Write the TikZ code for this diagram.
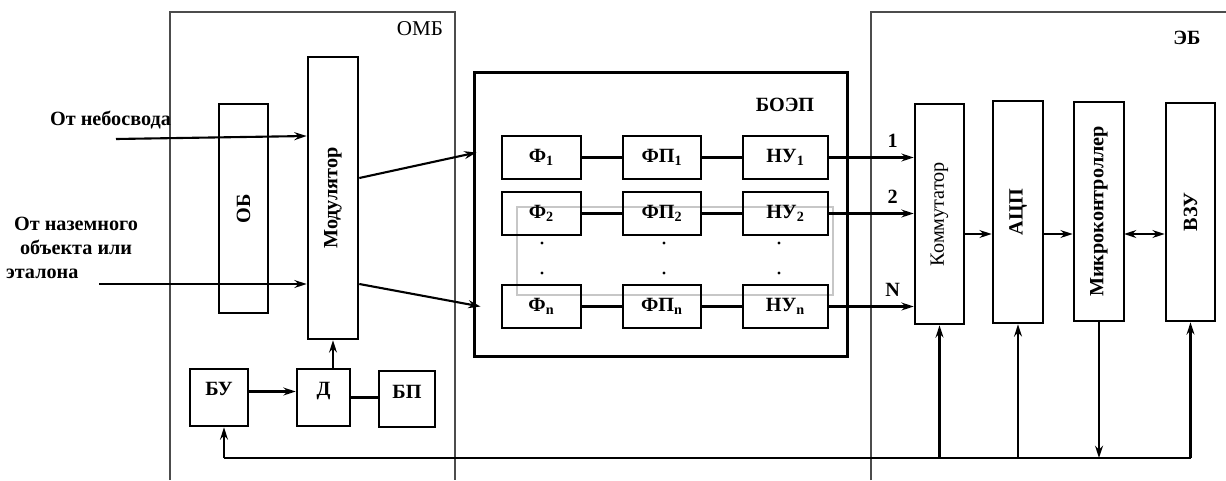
\documentclass[tikz,border=0pt]{standalone}
\usepackage{fontspec}
\setmainfont{Liberation Serif}
\usetikzlibrary{calc,arrows.meta}
\tikzset{
  blk/.style={draw, line width=1.5pt, inner sep=0pt, font=\fontsize{11.5}{13}\selectfont\bfseries},
  cell/.style={blk, minimum height=0.86cm},
  wire/.style={line width=1.2pt},
  arr/.style={wire, -{Stealth[length=7pt,width=4.5pt]}},
  twoway/.style={wire, {Stealth[length=7pt,width=4.5pt]}-{Stealth[length=7pt,width=4.5pt]}},
  frame/.style={draw=black!70, line width=0.6pt},
  txt/.style={font=\fontsize{11.5}{13.5}\selectfont\bfseries, inner sep=0pt}
}
\begin{document}
\begin{tikzpicture}[x=0.02cm, y=-0.02cm]
			%%%%% START %%%%%
			\useasboundingbox (0,0) rectangle (1226,480);
			
			% outer frames
			\draw[frame] (170,480) -- (170,12) -- (455,12) -- (455,480);
			\draw[frame] (871,480) -- (871,12) -- (1226,12);
			\node[font=\fontsize{12}{14}\selectfont, inner sep=0pt] (ombl) at (420,29) {ОМБ};
			\node[txt] (ebl) at (1187,38) {ЭБ};
			
			% optical-mechanical block
			\node[blk, minimum width=0.98cm, minimum height=4.18cm] (ob) at (243.5,208.5) {\rotatebox{90}{ОБ}};
			\node[blk, minimum width=1.0cm, minimum height=5.64cm] (mod) at (333,198) {\rotatebox{90}{Модулятор}};
			\node[blk, text depth=0.36cm, minimum width=1.16cm, minimum height=1.14cm] (bu) at (219,397.5) {БУ};
			\node[blk, text depth=0.36cm, minimum width=1.06cm, minimum height=1.14cm] (d) at (323.5,397.5) {Д};
			\node[blk, text depth=0.28cm, minimum width=1.12cm, minimum height=1.12cm] (bp) at (407,399) {БП};
			
			\coordinate (sky) at (116,139);
			\coordinate (ground) at (99,284);
			\node[txt] (skyl) at (110.5,120) {От небосвода};
			\node[txt, align=left] (groundl) at (72,248) {\hspace{0.16cm}От наземного\\\hspace{0.28cm}объекта или\\эталона};
			\draw[arr] (sky) -- ($(mod.west)+(0,-62)$);
			\draw[arr] (ground) -- ($(mod.west)+(0,86)$);
			
			\draw[arr] ([yshift=0.12cm]bu.east) -- ([yshift=0.12cm]d.west);
			\draw[wire] (d.east) -- (d.east -| bp.west);
			\draw[arr] (d.north -| mod.south) -- (mod.south);
			
			% photodetector block
			\node[draw, line width=1.7pt, minimum width=7.48cm, minimum height=5.70cm] (boep) at (661,214.5) {};
			\node[txt] (boepl) at (785,105) {БОЭП};
			\draw[draw=black!22, line width=0.6pt] (517,207) rectangle (833,295);
			
			\draw[arr] ($(mod.east)+(0,-20)$) -- ($(boep.west)+(4,-62)$);
			\draw[arr] ($(mod.east)+(0,86)$) -- ($(boep.west)+(8,92)$);
			
			% electronic block
			\node[blk, font=\fontsize{11.5}{13}\selectfont, minimum width=0.98cm, minimum height=4.40cm] (kom) at (939.5,214) {\rotatebox{90}{Коммутатор}};
			\node[blk, minimum width=1.0cm, minimum height=4.44cm] (adc) at (1018,212) {\rotatebox{90}{АЦП}};
			\node[blk, minimum width=1.0cm, minimum height=4.38cm] (mcu) at (1099,211.5) {\rotatebox{90}{Микроконтроллер}};
			\node[blk, minimum width=0.98cm, minimum height=4.36cm] (vzu) at (1190.5,212) {\rotatebox{90}{ВЗУ}};
			
			\foreach \r/\y/\lab in {1/157.5/1, 2/213.5/2, n/306.5/N} {
				\node[cell, minimum width=1.58cm] (f\r) at (541.5,\y) {Ф\textsubscript{\r}};
				\node[cell, minimum width=1.56cm] (fp\r) at (662,\y) {ФП\textsubscript{\r}};
				\node[cell, minimum width=1.70cm] (nu\r) at (785.5,\y) {НУ\textsubscript{\r}};
				\draw[wire] (f\r) -- (fp\r);
				\draw[wire] (fp\r) -- (nu\r);
				\draw[arr] (nu\r.east) -- (nu\r.east -| kom.west) node[txt, pos=0.75, above=5pt] {\lab};
			}
			\foreach \x in {542,664,779}
				\foreach \y in {243,273}
					\fill (\x,\y) circle (0.9pt);
			
			\coordinate (kout) at (964,234);
			\coordinate (aout) at (1043,234);
			\coordinate (mout) at (1124,234);
			\draw[arr] (kout) -- (kout -| adc.west);
			\draw[arr] (aout) -- (aout -| mcu.west);
			\draw[twoway] (mout) -- (mout -| vzu.west);
			
			% common bus
			\coordinate (busL) at (224,458);
			\coordinate (busR) at (1190.5,458);
			\draw[wire] (busL) -- (busR);
			\draw[arr] (busL) -- (busL |- bu.south);
			\draw[arr] (kom.south |- busL) -- (kom.south);
			\draw[arr] (adc.south |- busL) -- (adc.south);
			\draw[arr] (mcu.south) -- (mcu.south |- busL);
			\draw[arr] (busR) -- (vzu.south);
			%%%%% END %%%%%
\end{tikzpicture}
\end{document}
